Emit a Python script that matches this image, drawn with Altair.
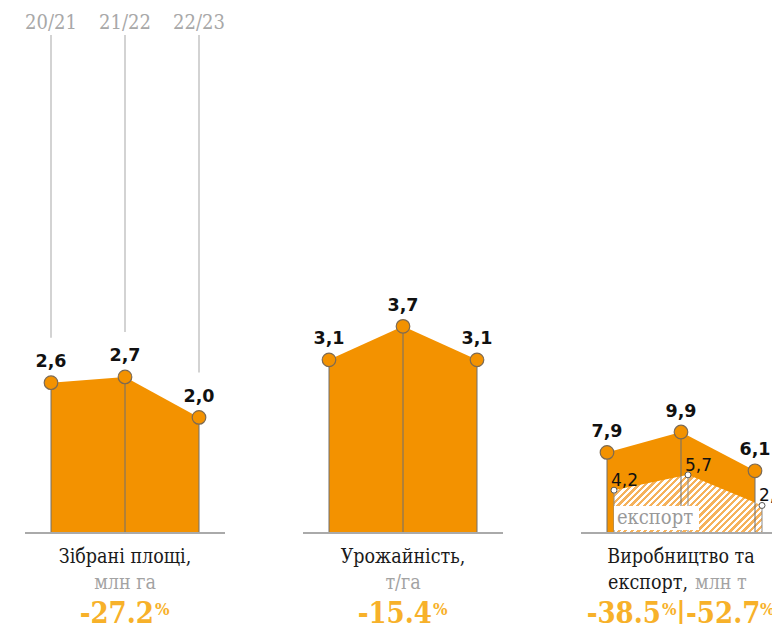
import altair as alt
import pandas as pd

# ---------------- data ----------------
years = ["20/21", "21/22", "22/23"]
harvested_area = [2.6, 2.7, 2.0]   # млн га
crop_yield = [3.1, 3.7, 3.1]       # т/га
production = [7.9, 9.9, 6.1]       # млн т
export = [4.2, 5.7, 2.7]           # млн т

titles = ["Зібрані площі,", "Урожайність,", "Виробництво та"]
units = ["млн га", "т/га", "млн т"]
changes = ["-27.2", "-15.4", "-38.5", "-52.7"]

# ---------------- layout / style ----------------
W, H = 764, 616
PX = 74.0                 # pixels between years
GAP = 278.0 / PX          # distance between panels, in year steps
BASE = 525                # pixel row of the zero line
XS = alt.Scale(domain=[-43 / PX, (W - 43) / PX], nice=False, zero=False)

ORANGE = "#F39200"
PCT = "#F7B12A"
GRID = "#c4c4c4"
DARK = "#6f6f6f"
GREY_TXT = "#a3a3a3"
SERIF = "DejaVu Serif Condensed, DejaVu Serif"
SANS = "DejaVu Sans"


def ydom(k):
    return [-(H - BASE) / k, BASE / k]


def panel_df(p, vals):
    return pd.DataFrame({
        "year": years,
        "pos": [p * GAP + i for i in range(len(vals))],
        "value": vals,
        "label": [f"{v:.1f}".replace(".", ",") for v in vals],
    })


# hatch fill for the export area (diagonal stripes)
stops = []
period = 0.0318
j = 0
while j * period < 1:
    a = round(j * period, 5)
    b = round(min(a + period / 2, 1), 5)
    c = round(min(a + period, 1), 5)
    stops += [{"color": "#F5B25C", "offset": a},
              {"color": "#F5B25C", "offset": b},
              {"color": "#FFFFFF", "offset": b},
              {"color": "#FFFFFF", "offset": c}]
    j += 1
HATCH = {"gradient": "linear", "stops": stops, "x1": 0, "y1": 0, "x2": 1.21, "y2": 0.475}

X = alt.X("pos:Q", scale=XS, axis=None)
all_layers = []


def panel(p, vals, k, grid_top=False, exp_vals=None):
    df = panel_df(p, vals)
    ys = alt.Scale(domain=ydom(k), nice=False, zero=False)
    Y = alt.Y("value:Q", scale=ys, axis=None)
    Y0 = alt.Y2(datum=0)
    base = alt.Chart(df)
    L = []
    if grid_top:
        L.append(base.mark_rule(color=GRID, strokeWidth=1.5, yOffset=-45)
                 .encode(x=X, y=Y, y2=alt.value(27)))
    L.append(base.mark_area(color=ORANGE, opacity=1).encode(x=X, y=Y, y2=Y0))
    if exp_vals is not None:
        edf = panel_df(p, exp_vals)
        eb = alt.Chart(edf)
        L.append(eb.mark_area(color=HATCH, opacity=1, xOffset=7)
                 .encode(x=X, y=Y, y2=Y0))
    L.append(base.mark_rule(color=DARK, strokeWidth=1).encode(x=X, y=Y, y2=Y0))
    if exp_vals is not None:
        L.append(eb.mark_rule(color="#8a8a8a", strokeWidth=1, xOffset=7)
                 .encode(x=X, y=Y, y2=Y0))
        box = alt.Chart(pd.DataFrame({"t": ["експорт"]}))
        L.append(box.mark_rect(color="white", opacity=1).encode(
            x=alt.value(606), x2=alt.value(691), y=alt.value(498), y2=alt.value(522)))
        L.append(box.mark_text(font=SERIF, fontSize=20, color="#999999",
                               baseline="alphabetic", align="center").encode(
            x=alt.value(647), y=alt.value(515.5), text="t:N"))
    # zero line
    zl = pd.DataFrame({"x0": [p * GAP - 26 / PX], "x1": [p * GAP + 2 + 26 / PX], "z": [0]})
    L.append(alt.Chart(zl).mark_rule(color="#aaaaaa", strokeWidth=2).encode(
        x=alt.X("x0:Q", scale=XS, axis=None), x2="x1:Q",
        y=alt.Y("z:Q", scale=ys, axis=None)))
    L.append(base.mark_circle(size=185, color=ORANGE, opacity=1,
                              stroke="#7d6a52", strokeWidth=1.2).encode(x=X, y=Y))
    L.append(base.mark_text(font=SANS, fontSize=17.5, fontWeight="bold", color="#111111",
                            baseline="alphabetic", dy=-15.5)
             .encode(x=X, y=Y, text="label:N"))
    if exp_vals is not None:
        L.append(eb.mark_circle(size=36, color="white", opacity=1,
                                stroke="#555555", strokeWidth=1, xOffset=7)
                 .encode(x=X, y=Y))
        L.append(eb.mark_text(font=SANS, fontSize=17, color="#111111",
                              baseline="alphabetic", align="left", dx=4, dy=-4)
                 .encode(x=X, y=Y, text="label:N"))
    all_layers.extend(L)


panel(0, harvested_area, 57.8, grid_top=True)
panel(1, crop_yield, 55.85)
panel(2, production, 10.2, exp_vals=export)

# ---------------- annotation texts ----------------
ydf = pd.DataFrame({"year": years, "pos": [float(i) for i in range(3)]})
all_layers.append(alt.Chart(ydf).mark_text(font=SERIF, fontSize=20, color="#a8a8a8",
                                           baseline="alphabetic").encode(
    x=X, y=alt.value(20.5), text="year:N"))

tdf = pd.DataFrame({"title": titles, "unit": units,
                    "pos": [p * GAP + 1 for p in range(3)],
                    "w": ["", "", "експорт,"]})
all_layers.append(alt.Chart(tdf).mark_text(font=SERIF, fontSize=19.5, color="#1a1a1a",
                                           baseline="alphabetic").encode(
    x=X, y=alt.value(555), text="title:N"))
all_layers.append(alt.Chart(tdf.iloc[:2]).mark_text(font=SERIF, fontSize=19.5, color=GREY_TXT,
                                                    baseline="alphabetic").encode(
    x=X, y=alt.value(581), text="unit:N"))
all_layers.append(alt.Chart(tdf.iloc[2:]).mark_text(
    font=SERIF, fontSize=19.5, color="#1a1a1a", baseline="alphabetic", align="right", dx=7
).encode(x=X, y=alt.value(581), text="w:N"))
all_layers.append(alt.Chart(tdf.iloc[2:]).mark_text(
    font=SERIF, fontSize=19.5, color=GREY_TXT, baseline="alphabetic", align="left", dx=14
).encode(x=X, y=alt.value(581), text="unit:N"))

PCT_Y, SIGN_Y = 615, 606.5
cdf = pd.DataFrame({"chg": changes[:2], "pos": [p * GAP + 1 for p in range(2)], "s": ["%", "%"]})
all_layers.append(alt.Chart(cdf).mark_text(font=SERIF, fontSize=29, fontWeight="bold", color=PCT,
                                           baseline="alphabetic", align="right", dx=29).encode(
    x=X, y=alt.value(PCT_Y), text="chg:N"))
all_layers.append(alt.Chart(cdf).mark_text(font=SERIF, fontSize=17, fontWeight="bold", color=PCT,
                                           baseline="alphabetic", align="left", dx=30).encode(
    x=X, y=alt.value(SIGN_Y), text="s:N"))

c3 = pd.DataFrame({"a": [changes[2]], "b": [changes[3]], "pos": [2 * GAP + 1],
                   "s": ["%"], "bar": ["|"]})
all_layers.append(alt.Chart(c3).mark_text(font=SERIF, fontSize=29, fontWeight="bold", color=PCT,
                                          baseline="alphabetic", align="right", dx=-20).encode(
    x=X, y=alt.value(PCT_Y), text="a:N"))
all_layers.append(alt.Chart(c3).mark_text(font=SERIF, fontSize=17, fontWeight="bold", color=PCT,
                                          baseline="alphabetic", align="left", dx=-19).encode(
    x=X, y=alt.value(SIGN_Y), text="s:N"))
all_layers.append(alt.Chart(c3).mark_text(font=SERIF, fontSize=29, fontWeight="bold", color=PCT,
                                          baseline="alphabetic", align="center", dx=0).encode(
    x=X, y=alt.value(PCT_Y), text="bar:N"))
all_layers.append(alt.Chart(c3).mark_text(font=SERIF, fontSize=29, fontWeight="bold", color=PCT,
                                          baseline="alphabetic", align="left", dx=5).encode(
    x=X, y=alt.value(PCT_Y), text="b:N"))
all_layers.append(alt.Chart(c3).mark_text(font=SERIF, fontSize=17, fontWeight="bold", color=PCT,
                                          baseline="alphabetic", align="left", dx=79).encode(
    x=X, y=alt.value(SIGN_Y), text="s:N"))

chart = alt.layer(*all_layers).resolve_scale(y="independent").properties(
    width=W, height=H, padding=0, autosize=alt.AutoSizeParams(type="none"),
    background="white"
).configure_view(stroke=None)

chart.save("out.html", embed_options={"renderer": "svg", "actions": False})
